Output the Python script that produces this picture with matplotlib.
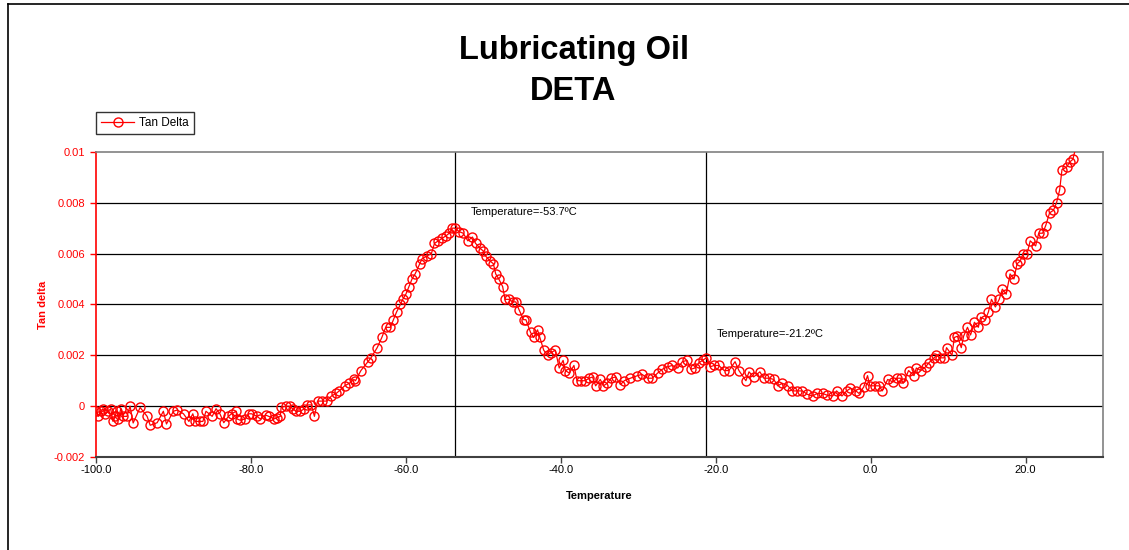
"""
Lubricating oil DETA scan - tan delta against temperature
"""

import matplotlib
matplotlib.use("Agg")
import matplotlib.pyplot as plt
from matplotlib.lines import Line2D

plt.rcParams['font.family'] = ['Liberation Sans', 'DejaVu Sans']

# temperature (degC) and tan delta
temperature = [
    -100.0, -99.7, -99.4, -99.1, -98.8, -98.4, -98.1, -97.8, -97.6, -97.3,
    -97.1, -96.8, -96.5, -96.0, -95.6, -95.2, -94.3, -93.4, -93.0, -92.1,
    -91.3, -90.9, -90.0, -89.5, -88.7, -88.0, -87.5, -87.2, -86.6, -86.2,
    -85.8, -85.0, -84.5, -84.0, -83.5, -82.9, -82.5, -81.9, -81.8, -81.4,
    -80.7, -80.3, -79.9, -79.2, -78.8, -78.1, -77.7, -77.0, -76.6, -76.2,
    -76.1, -75.5, -75.0, -74.6, -74.2, -73.6, -73.1, -72.7, -72.2, -71.8,
    -71.4, -70.8, -70.2, -69.6, -69.0, -68.6, -67.9, -67.3, -66.7, -66.5,
    -65.8, -64.9, -64.5, -63.7, -63.1, -62.6, -62.0, -61.6, -61.2, -60.7,
    -60.4, -60.0, -59.6, -59.2, -58.8, -58.2, -57.9, -57.3, -56.7, -56.3,
    -55.8, -55.3, -54.8, -54.4, -54.0, -53.7, -53.1, -52.6, -52.0, -51.4,
    -51.0, -50.4, -50.0, -49.7, -49.1, -48.7, -48.4, -48.0, -47.5, -47.2,
    -46.7, -46.2, -45.8, -45.4, -44.8, -44.5, -43.9, -43.5, -43.0, -42.7,
    -42.2, -41.7, -41.3, -40.7, -40.2, -39.7, -39.4, -38.9, -38.3, -37.9,
    -37.4, -36.9, -36.3, -35.9, -35.5, -34.9, -34.5, -34.0, -33.5, -32.9,
    -32.3, -31.8, -31.0, -30.1, -29.5, -28.8, -28.2, -27.5, -26.9, -26.2,
    -25.6, -24.9, -24.3, -23.7, -23.2, -22.7, -22.2, -21.7, -21.2, -20.7,
    -20.2, -19.6, -18.9, -18.3, -17.5, -17.0, -16.1, -15.7, -15.1, -14.3,
    -13.8, -13.1, -12.5, -12.0, -11.4, -10.7, -10.1, -9.5, -8.8, -8.2,
    -7.5, -6.9, -6.2, -5.6, -4.9, -4.4, -3.7, -3.1, -2.6, -1.9,
    -1.5, -0.9, -0.4, -0.1, 0.6, 1.1, 1.5, 2.2, 2.9, 3.4,
    3.9, 4.2, 4.9, 5.6, 5.9, 6.5, 7.1, 7.5, 8.2, 8.5,
    9.0, 9.5, 9.8, 10.5, 10.8, 11.2, 11.7, 12.0, 12.5, 12.9,
    13.4, 13.9, 14.2, 14.8, 15.2, 15.6, 16.1, 16.6, 17.0, 17.5,
    18.0, 18.5, 18.9, 19.3, 19.7, 20.2, 20.6, 21.3, 21.7, 22.2,
    22.6, 23.1, 23.6, 24.0, 24.4, 24.7, 25.3, 25.7, 26.1, 27.0,
]
tan_delta = [
    -0.0002, -0.0004, -0.0002, -0.0001, -0.0003, -0.0002, -0.0001, -0.0006, -0.0004, -0.0002,
    -0.0005, -0.0001, -0.0004, -0.0004, 0.0000, -0.00066, -0.00005, -0.0004, -0.00075, -0.00065,
    -0.0002, -0.0007, -0.0002, -0.00015, -0.0003, -0.0006, -0.0003, -0.0006, -0.0006, -0.0006,
    -0.0002, -0.0004, -0.0001, -0.0003, -0.00065, -0.0004, -0.0003, -0.0002, -0.0005, -0.00055,
    -0.0005, -0.0003, -0.0003, -0.0004, -0.0005, -0.00035, -0.0004, -0.0005, -0.00045, -0.0004,
    -0.00005, 0.0000, 0.0000, -0.0001, -0.0002, -0.0002, -0.0001, 0.00005, 0.00005, -0.0004,
    0.0002, 0.0002, 0.0002, 0.0004, 0.0005, 0.0006, 0.0008, 0.0009, 0.00105, 0.001,
    0.0014, 0.00175, 0.0019, 0.0023, 0.0027, 0.0031, 0.0031, 0.0034, 0.0037, 0.004,
    0.0042, 0.0044, 0.0047, 0.005, 0.0052, 0.0056, 0.0058, 0.0059, 0.006, 0.0064,
    0.0065, 0.0066, 0.0067, 0.0068, 0.007, 0.007, 0.00686, 0.0068, 0.0065, 0.00665,
    0.0064, 0.0062, 0.0061, 0.0059, 0.0057, 0.0056, 0.0052, 0.005, 0.0047, 0.0042,
    0.0042, 0.0041, 0.0041, 0.0038, 0.0034, 0.0034, 0.0029, 0.0027, 0.003, 0.0027,
    0.0022, 0.002, 0.0021, 0.0022, 0.0015, 0.0018, 0.0014, 0.0013, 0.0016, 0.001,
    0.001, 0.001, 0.0011, 0.00115, 0.0008, 0.00105, 0.0008, 0.0009, 0.0011, 0.00115,
    0.00085, 0.001, 0.0011, 0.0012, 0.00125, 0.0011, 0.0011, 0.0013, 0.00145, 0.00155,
    0.0016, 0.0015, 0.00175, 0.0018, 0.00145, 0.0015, 0.0017, 0.0018, 0.0019, 0.00155,
    0.0016, 0.0016, 0.0014, 0.0014, 0.00175, 0.0014, 0.001, 0.00135, 0.00115, 0.00135,
    0.0011, 0.0011, 0.00105, 0.0008, 0.0009, 0.0008, 0.0006, 0.0006, 0.0006, 0.00047,
    0.0004, 0.0005, 0.0005, 0.00043, 0.0004, 0.0006, 0.0004, 0.0006, 0.0007, 0.0006,
    0.0005, 0.00075, 0.0012, 0.0008, 0.0008, 0.0008, 0.0006, 0.00105, 0.00095, 0.0011,
    0.0011, 0.0009, 0.0014, 0.0012, 0.0015, 0.0014, 0.00155, 0.0017, 0.0019, 0.002,
    0.0019, 0.0019, 0.0023, 0.002, 0.0027, 0.00275, 0.0023, 0.00275, 0.0031, 0.0028,
    0.0033, 0.0031, 0.0035, 0.0034, 0.0037, 0.0042, 0.0039, 0.0042, 0.0046, 0.0044,
    0.0052, 0.005, 0.0056, 0.0057, 0.006, 0.006, 0.0065, 0.0063, 0.0068, 0.0068,
    0.0071, 0.0076, 0.0077, 0.008, 0.0085, 0.0093, 0.0094, 0.0096, 0.0097, 0.0108,
]

# peak markers
peak_temps = [-53.7, -21.2]
peak_labels = ["Temperature=-53.7ºC", "Temperature=-21.2ºC"]
label_pos = [(-51.6, 0.00764), (-19.9, 0.00283)]

xticks = [-100, -80, -60, -40, -20, 0, 20]
xtick_labels = ["-100.0", "-80.0", "-60.0", "-40.0", "-20.0", "0.0", "20.0"]
yticks = [-0.002, 0.0, 0.002, 0.004, 0.006, 0.008, 0.01]
ytick_labels = ["-0.002", "0", "0.002", "0.004", "0.006", "0.008", "0.01"]

RED = "#ff0000"

fig = plt.figure(figsize=(11.29, 5.5), dpi=100)
ax = fig.add_axes([0.085, 0.169, 0.892, 0.555])

ax.set_xlim(-100, 30)
ax.set_ylim(-0.002, 0.01)

for yv in yticks[1:-1]:
    ax.axhline(yv, color="black", lw=0.9, zorder=1)
for tp in peak_temps:
    ax.axvline(tp, color="black", lw=0.9, zorder=1)

ax.plot(temperature, tan_delta, color=RED, lw=0.9, marker="o", ms=6.5,
        mfc="none", mec=RED, mew=1.0, label="Tan Delta", zorder=3)

for (tx, ty), txt in zip(label_pos, peak_labels):
    ax.text(tx, ty, txt, fontsize=8, va="center", ha="left", color="black")

ax.set_xticks(xticks)
ax.set_xticklabels(xtick_labels, fontsize=8)
ax.set_yticks(yticks)
ax.set_yticklabels(ytick_labels, fontsize=8, color=RED)
ax.tick_params(axis="x", direction="out", length=4, width=1, color="#404040", pad=2)
ax.tick_params(axis="y", direction="out", length=4, width=1, color=RED, pad=4)

ax.spines["left"].set_color(RED)
ax.spines["left"].set_linewidth(1.2)
ax.spines["bottom"].set_color("#404040")
ax.spines["bottom"].set_linewidth(1.5)
for side in ("top", "right"):
    ax.spines[side].set_color("#808080")
    ax.spines[side].set_linewidth(1.2)

ax.set_xlabel("Temperature", fontsize=8, fontweight="bold", labelpad=11)
ax.set_ylabel("Tan delta", fontsize=8, fontweight="bold", color=RED, labelpad=4)

fig.text(0.508, 1 - 50 / 550, "Lubricating Oil", ha="center", va="center",
         fontsize=23.5, fontweight="bold")
fig.text(0.508, 1 - 92 / 550, "DETA", ha="center", va="center",
         fontsize=23.5, fontweight="bold")

leg = ax.legend(loc="upper left", bbox_to_anchor=(0.085, 0.797),
                bbox_transform=fig.transFigure, fontsize=8.5, frameon=True,
                fancybox=False, borderpad=0.45, handlelength=2.8,
                handletextpad=0.4, borderaxespad=0)
leg.get_frame().set_edgecolor("black")
leg.get_frame().set_linewidth(1.0)

# outer chart-area border (left and top only are in view)
fig.add_artist(Line2D([8 / 1129, 8 / 1129], [0, 1 - 4 / 550],
                      transform=fig.transFigure, color="black", lw=1.2))
fig.add_artist(Line2D([8 / 1129, 1], [1 - 4 / 550, 1 - 4 / 550],
                      transform=fig.transFigure, color="black", lw=1.2))

fig.savefig("out.png", dpi=100, facecolor="white")
